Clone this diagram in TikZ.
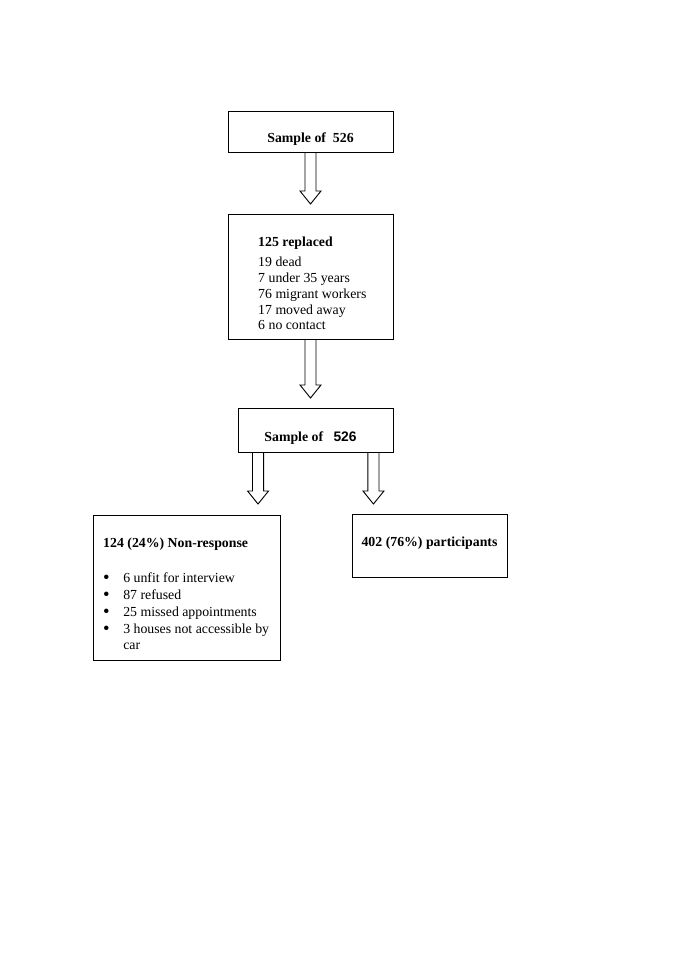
\documentclass[tikz,border=0pt]{standalone}
\usepackage{fontspec}
\setmainfont{Liberation Serif}
\newfontfamily\arialfont{Liberation Sans}
\usetikzlibrary{calc}
\newcommand\blockarrow[2]{%
  \draw[blockarr] let \p1=(#1), \p2=(#2) in
    (\x1-4.8pt,\y1) -- (\x1-4.8pt,\y2+11.3pt) -- (\x1-9.1pt,\y2+11.3pt) --
    (\x1,\y2) -- (\x1+9.1pt,\y2+11.3pt) -- (\x1+4.8pt,\y2+11.3pt) -- (\x1+4.8pt,\y1);}
\newcommand\bigbul{\raisebox{-0.9pt}{\scalebox{1.35}{\textbullet}}}
\begin{document}
\begin{tikzpicture}[x=0.8686pt,y=-0.8686pt,
  box/.style={draw, line width=0.8pt, inner sep=0pt, rectangle},
  blockarr/.style={draw, line width=0.8pt, line join=miter},
  txt/.style={inner sep=0pt, font=\fontsize{12}{13.7}\selectfont}]
\useasboundingbox (0,0) rectangle (685,969);

% boxes
\node[box, minimum width=143.32pt, minimum height=35.61pt] (b1) at (310.5,131.5) {};
\node[box, minimum width=143.32pt, minimum height=108.58pt] (b2) at (310.5,276.5) {};
\node[box, minimum width=134.63pt, minimum height=38.22pt] (b3) at (315.5,430) {};
\node[box, minimum width=162.43pt, minimum height=125.95pt] (b4) at (186.5,587.5) {};
\node[box, minimum width=134.63pt, minimum height=54.72pt] (b5) at (429.5,545.5) {};

% texts
\node[txt, anchor=base, font=\fontsize{12}{13.7}\selectfont\bfseries] (t1) at (310.5,142.5) {Sample of\ \ 526};
\node[txt, anchor=base west] (t2) at (258,246) {%
  \begin{tabular}[t]{@{}l@{}}
  \textbf{125 replaced}\\[4.3pt]
  19 dead\\
  7 under 35 years\\
  76 migrant workers\\
  17 moved away\\
  6 no contact
  \end{tabular}};
\node[txt, anchor=base, font=\fontsize{12}{13.7}\selectfont\bfseries] (t3) at (310.5,441) {Sample of\ \ \ {\arialfont 526}};
\node[txt, anchor=base west, font=\fontsize{12}{14.6}\selectfont] (t4) at (103,547.5) {%
  \begin{tabular}[t]{@{}p{17.4pt}@{}l@{}}
  \multicolumn{2}{@{}l@{}}{\textbf{124 (24\%) Non-response}}\\[16pt]
  \hspace{-0.2pt}\bigbul & 6 unfit for interview\\
  \hspace{-0.2pt}\bigbul & 87 refused\\
  \hspace{-0.2pt}\bigbul & 25 missed appointments\\
  \hspace{-0.2pt}\bigbul & 3 houses not accessible by\\
   & car
  \end{tabular}};
\node[txt, anchor=base, font=\fontsize{12}{13.7}\selectfont\bfseries] (t5) at (429.5,546.5) {402 (76\%) participants};

% arrow end points
\coordinate (e1) at (310.5,204);
\coordinate (e2) at (310.5,398);
\coordinate (s3) at ($(b3.south west)+(20.5,0)$);
\coordinate (e3) at (258.5,504);
\coordinate (s4) at ($(b3.south east)+(-20,0)$);
\coordinate (e4) at (373,504);

% block arrows
\blockarrow{b1.south}{e1}
\blockarrow{b2.south}{e2}
\blockarrow{s3}{e3}
\blockarrow{s4}{e4}
\end{tikzpicture}
\end{document}
